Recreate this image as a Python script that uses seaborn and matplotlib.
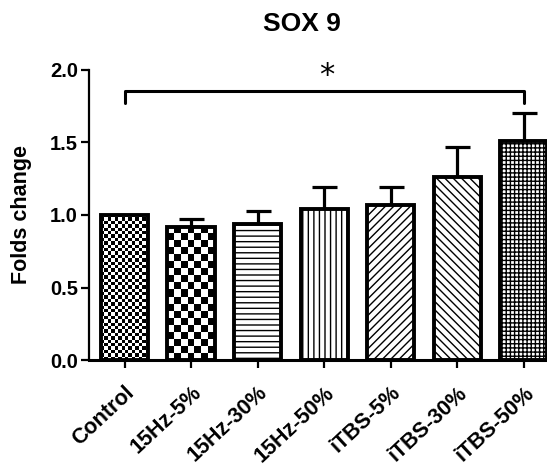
import numpy as np
import pandas as pd
import matplotlib
matplotlib.use("Agg")
import matplotlib.pyplot as plt
import seaborn as sns

# values
groups = ["Control", "15Hz-5%", "15Hz-30%", "15Hz-50%", "iTBS-5%", "iTBS-30%", "iTBS-50%"]
fold_change = [1.00, 0.92, 0.94, 1.04, 1.07, 1.26, 1.51]
sem = [0.00, 0.05, 0.09, 0.15, 0.12, 0.21, 0.19]
# "checker" = checkerboard fill, number = cell size in pixels
patterns = [("checker", 3.4), ("checker", 7.2), "---", "|||", "////", "\\\\\\\\", "++++"]

bracket_y = 1.855
bracket_drop = 0.085
star_y = 1.965

sns.set_style("ticks")
plt.rcParams['font.family'] = ['Liberation Sans', 'DejaVu Sans']
plt.rcParams['hatch.linewidth'] = 1.0
for key in ["text.color", "axes.labelcolor", "xtick.color", "ytick.color", "axes.edgecolor"]:
    plt.rcParams[key] = "black"

fig = plt.figure(figsize=(5.47, 4.68), dpi=100)
ax = fig.add_axes([89 / 547, 108 / 468, 458 / 547, 290 / 468])

df = pd.DataFrame({"group": groups, "fold": fold_change})
sns.barplot(data=df, x="group", y="fold", color="white", saturation=1,
            width=0.71, edgecolor="black", linewidth=2.8, errorbar=None, ax=ax)

ax.errorbar(np.arange(len(groups)), fold_change,
            yerr=[np.zeros(len(sem)), sem], fmt="none", ecolor="black",
            elinewidth=2.3, capsize=9, capthick=2.3, zorder=0.5)

ax.set_xlim(-0.534, 6.35)
ax.set_ylim(0, 2.0)
ax.set_yticks([0, 0.5, 1.0, 1.5, 2.0])
ax.set_yticklabels(["0.0", "0.5", "1.0", "1.5", "2.0"], fontsize=14.5, fontweight="bold")
ax.set_xticks(range(len(groups)))
ax.set_xticklabels(groups, rotation=43, ha="right", rotation_mode="anchor",
                   fontsize=15.5, fontweight="bold")
ax.set_xlabel("")
ax.set_ylabel("Folds change", fontsize=15.5, fontweight="bold")
ax.yaxis.set_label_coords(-0.124, 0.5)
ax.tick_params(axis="both", direction="out", length=6, width=1.6, color="black", pad=2)
ax.tick_params(axis="x", pad=10)
sns.despine(ax=ax)
ax.spines["left"].set_linewidth(1.6)
ax.spines["bottom"].set_linewidth(2.2)

# fill patterns
fig.canvas.draw()
for patch, pat in zip(ax.patches, patterns):
    if isinstance(pat, tuple):
        cell = pat[1]
        bb = patch.get_bbox()
        px = ax.transData.transform([[bb.x0, bb.y0], [bb.x1, bb.y1]])
        nx = max(int(round((px[1, 0] - px[0, 0]) / cell)), 1)
        ny = max(int(round((px[1, 1] - px[0, 1]) / cell)), 1)
        board = (np.add.outer(np.arange(ny), np.arange(nx)) % 2).astype(float)
        patch.set_facecolor("none")
        im = ax.imshow(board, cmap="gray_r", vmin=0, vmax=1, origin="lower",
                       extent=(bb.x0, bb.x1, bb.y0, bb.y1), aspect="auto",
                       interpolation="nearest", zorder=patch.get_zorder() - 0.1)
        im.set_clip_path(patch)
    else:
        patch.set_hatch(pat)
ax.set_xlim(-0.534, 6.35)
ax.set_ylim(0, 2.0)

# significance bracket Control vs iTBS-50%
x_left, x_right = 0, len(groups) - 1
ax.plot([x_left, x_left, x_right, x_right],
        [bracket_y - bracket_drop, bracket_y, bracket_y, bracket_y - bracket_drop],
        color="black", lw=2.2, clip_on=False)
ax.text((x_left + x_right) / 2 + 0.04, star_y, "*", ha="center", va="center",
        fontsize=22, family="DejaVu Sans", clip_on=False)

fig.text(302 / 547, 1 - 24 / 468, "SOX 9", ha="center", va="center",
         fontsize=19, fontweight="bold")

plt.savefig("out.png", dpi=100)
